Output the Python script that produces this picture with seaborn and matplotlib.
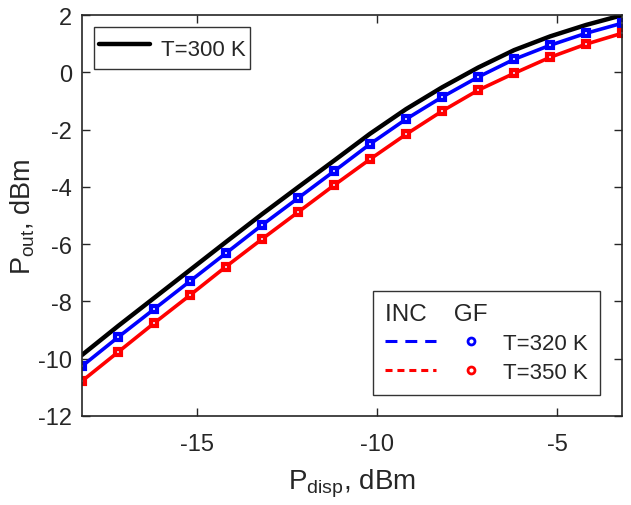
import numpy as np
import pandas as pd
import matplotlib
matplotlib.use('Agg')
from matplotlib import pyplot as plt
from matplotlib.lines import Line2D
from matplotlib.legend_handler import HandlerTuple
import seaborn as sns

# Dispersion power, dBm
p_disp = [-18.2, -17.2, -16.2, -15.2, -14.2, -13.2, -12.2, -11.2,
          -10.2, -9.2, -8.2, -7.2, -6.2, -5.2, -4.2, -3.2]
# Output power, dBm
p_300 = [-9.87, -8.86, -7.88, -6.90, -5.92, -4.95, -4.01, -3.08,
         -2.14, -1.28, -0.52, 0.17, 0.78, 1.26, 1.66, 2.00]
p_320 = [-10.26, -9.25, -8.27, -7.29, -6.31, -5.33, -4.39, -3.45,
         -2.50, -1.63, -0.86, -0.16, 0.46, 0.95, 1.37, 1.72]
p_350 = [-10.78, -9.77, -8.76, -7.78, -6.78, -5.82, -4.88, -3.94,
         -3.03, -2.16, -1.35, -0.62, -0.03, 0.53, 0.99, 1.37]

df = pd.DataFrame({'x': p_disp, 'T300': p_300, 'T320': p_320, 'T350': p_350})

sns.set_style('ticks')
plt.rcParams['font.family'] = ['Liberation Sans', 'DejaVu Sans']
plt.rcParams['mathtext.fontset'] = 'custom'
plt.rcParams['mathtext.rm'] = 'Liberation Sans'
plt.rcParams['mathtext.it'] = 'Liberation Sans'
plt.rcParams['axes.unicode_minus'] = False

fig = plt.figure(figsize=(6.31, 5.06), dpi=100)
ax = fig.add_axes([0.130, 0.176, 0.856, 0.792])

sns.lineplot(data=df, x='x', y='T300', color='black', lw=3.2, ax=ax)
for col, c in [('T320', '#0000ff'), ('T350', '#ff0000')]:
    sns.lineplot(data=df, x='x', y=col, color=c, lw=2.6, marker='s',
                 markersize=4, markeredgewidth=3, markerfacecolor='#e8e8ff',
                 markeredgecolor=c, ax=ax)

ax.set_xlim(-18.2, -3.2)
ax.set_ylim(-12, 2)
ax.set_xticks([-15, -10, -5])
ax.set_yticks(np.arange(-12, 3, 2))
ax.tick_params(direction='in', top=True, right=True, labelsize=17,
               length=6, width=1, color='#262626', labelcolor='#262626')
ax.tick_params(axis='x', pad=12)
ax.tick_params(axis='y', pad=7)
for s in ax.spines.values():
    s.set_linewidth(1.2)
    s.set_color('#262626')

ax.set_xlabel(r'P$_{\mathrm{disp}}$, dBm', fontsize=20, color='#262626', labelpad=9)
ax.set_ylabel(r'P$_{\mathrm{out}}$, dBm', fontsize=19.5, color='#262626', labelpad=1)

# legend for T=300 K
h300 = Line2D([], [], color='black', lw=3.2)
leg1 = ax.legend([h300], ['T=300 K'], loc='upper left', fontsize=16,
                 frameon=True, fancybox=False, edgecolor='black',
                 handlelength=2.3, handletextpad=0.5, handleheight=1.9,
                 borderaxespad=0.55, borderpad=0.2)
leg1.get_frame().set_linewidth(1)
ax.add_artist(leg1)

# legend for INC / GF
h320 = (Line2D([], [], color='#0000ff', lw=2.2, ls=(0, (3.9, 2.6))),
        Line2D([], [], color='#0000ff', ls='none', marker='o', markersize=5,
               markeredgewidth=2, markerfacecolor='white'))
h350 = (Line2D([], [], color='#ff0000', lw=2.2, ls=(0, (2.3, 1.6))),
        Line2D([], [], color='#ff0000', ls='none', marker='o', markersize=5,
               markeredgewidth=2, markerfacecolor='white'))
leg2 = ax.legend([h320, h350], ['T=320 K', 'T=350 K'], loc='lower right',
                 bbox_to_anchor=(0.959, 0.052), borderaxespad=0,
                 fontsize=16, title='INC    GF',
                 title_fontsize=17.5, alignment='left',
                 handler_map={tuple: HandlerTuple(ndivide=None, pad=0.43)},
                 frameon=True, fancybox=False, edgecolor='black',
                 handlelength=5.0, handletextpad=0.3, borderpad=0.55,
                 labelspacing=0.35)
leg2.get_frame().set_linewidth(1)

plt.savefig('out.png', dpi=100)
